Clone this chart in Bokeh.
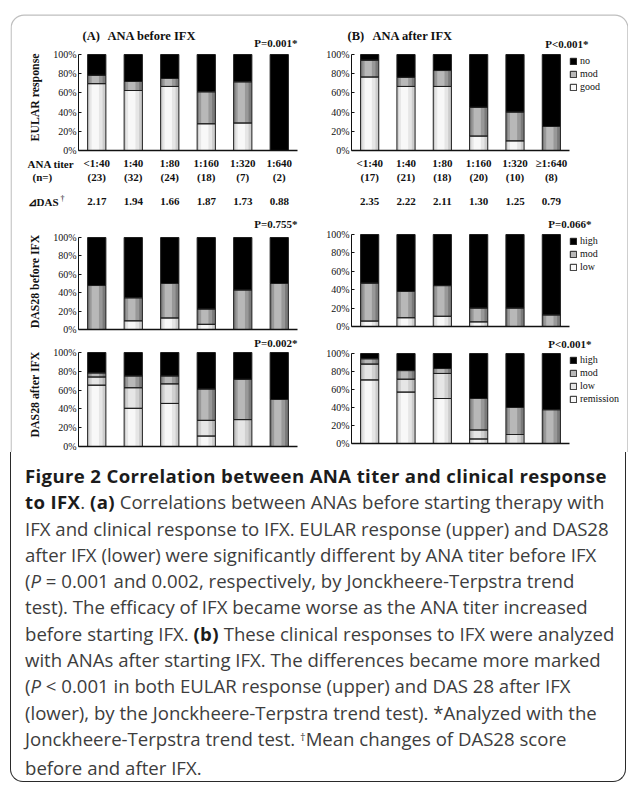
from bokeh.plotting import figure
from bokeh.models import (Label, Legend, LegendItem, FixedTicker, Div, ColumnDataSource,
                          Range1d, LinearAxis, BoxAnnotation)
from bokeh.core.properties import value
from bokeh.transform import dodge
from bokeh.layouts import column
from bokeh.embed import file_html
from bokeh.resources import INLINE
from math import pi

# ---------------- data ----------------
bar_x = [1, 2, 3, 4, 5, 6]
titer_before = ["<1:40", "1:40", "1:80", "1:160", "1:320", "1:640"]
n_before = ["(23)", "(32)", "(24)", "(18)", "(7)", "(2)"]
titer_after = ["<1:40", "1:40", "1:80", "1:160", "1:320", "\u22651:640"]
n_after = ["(17)", "(21)", "(18)", "(20)", "(10)", "(8)"]
das_change_before = ["2.17", "1.94", "1.66", "1.87", "1.73", "0.88"]
das_change_after = ["2.35", "2.22", "2.11", "1.30", "1.25", "0.79"]

# (A) ANA before IFX -- EULAR response (%)
eular_before_good = [69.6, 62.5, 66.7, 27.8, 28.6, 0.0]
eular_before_mod = [8.7, 9.4, 8.3, 33.3, 42.9, 0.0]
eular_before_no = [21.7, 28.1, 25.0, 38.9, 28.5, 100.0]
# (B) ANA after IFX -- EULAR response (%)
eular_after_good = [76.5, 66.7, 66.7, 15.0, 10.0, 0.0]
eular_after_mod = [17.6, 9.5, 16.6, 30.0, 30.0, 25.0]
eular_after_no = [5.9, 23.8, 16.7, 55.0, 60.0, 75.0]
# (A) DAS28 before IFX (%)
dasb_before_low = [0.0, 9.4, 12.5, 5.6, 0.0, 0.0]
dasb_before_mod = [47.8, 25.0, 37.5, 16.6, 42.9, 50.0]
dasb_before_high = [52.2, 65.6, 50.0, 77.8, 57.1, 50.0]
# (B) DAS28 before IFX (%)
dasb_after_low = [5.9, 9.5, 11.1, 5.0, 0.0, 0.0]
dasb_after_mod = [41.2, 28.6, 33.3, 15.0, 20.0, 12.5]
dasb_after_high = [52.9, 61.9, 55.6, 80.0, 80.0, 87.5]
# (A) DAS28 after IFX (%)
dasa_before_rem = [65.2, 40.6, 45.8, 11.1, 0.0, 0.0]
dasa_before_low = [8.7, 21.9, 20.8, 16.7, 28.6, 0.0]
dasa_before_mod = [4.3, 12.5, 8.4, 33.3, 42.9, 50.0]
dasa_before_high = [21.8, 25.0, 25.0, 38.9, 28.5, 50.0]
# (B) DAS28 after IFX (%)
dasa_after_rem = [70.6, 57.1, 50.0, 5.0, 0.0, 0.0]
dasa_after_low = [17.6, 14.3, 27.8, 10.0, 10.0, 0.0]
dasa_after_mod = [5.9, 9.6, 5.5, 35.0, 30.0, 37.5]
dasa_after_high = [5.9, 19.0, 16.7, 50.0, 60.0, 62.5]

y_ticks = [0, 20, 40, 60, 80, 100]

# ---------------- styling / geometry ----------------
SERIF = "Liberation Serif"
INK = "#111111"
FRAME = "#2a2a2a"
# (edge, middle, centre) shades giving the cylinder look of the bars
SH_LIGHT = ("#cdcdcd", "#e6e6e6", "#f8f8f8")
SH_LOW = ("#b5b5b5", "#d0d0d0", "#e6e6e6")
SH_MOD = ("#7a7a7a", "#989898", "#b8b8b8")
SH_DARK = ("#000000", "#000000", "#000000")

W, H = 618, 452          # chart canvas
OX, OY = 10, 0           # canvas origin in page pixels
BOX_TOP = 14.6           # page y of the rounded frame's top edge
TOP_PANEL = (54, 150)    # page y of 100% and 0% in the upper panels


def lx(x):  # page px -> canvas px
    return x - OX


def ly(y):
    return y - OY


p = figure(width=W, height=H, x_range=Range1d(0, W), y_range=Range1d(H, 0),
           x_axis_type=None, y_axis_type=None, min_border=0,
           min_border_left=0, min_border_right=0, min_border_top=0, min_border_bottom=0,
           output_backend="svg", toolbar_location=None)
p.outline_line_color = None
p.background_fill_alpha = 0
p.border_fill_alpha = 0

p.extra_x_ranges = {}
p.extra_y_ranges = {}


def add_xrange(name, x0, x1):
    a, b = lx(x0), lx(x1)
    u = 6.0 / (b - a)
    p.extra_x_ranges[name] = Range1d(0.5 - a * u, 6.5 + (W - b) * u)


def add_yrange(name, y0, y1):
    t, b = ly(y0), ly(y1)
    u = 100.0 / (b - t)
    p.extra_y_ranges[name] = Range1d(-(H - b) * u, 100 + t * u)


add_xrange("xa", 78, 297)
add_xrange("xb", 351, 569)
add_yrange("y1", *TOP_PANEL)
add_yrange("y2a", 237, 329)
add_yrange("y2b", 234, 326)
add_yrange("y3a", 352, 446)
add_yrange("y3b", 353, 443)


def y1_value(page_y):  # page px -> value on the (upright) upper-panel scale
    t, b = TOP_PANEL
    return (b - page_y) / (b - t) * 100.0


# rounded frame round the figure (continued by the caption box below)
p.add_layout(BoxAnnotation(left=0.6, right=W - 0.6, y_range_name="y1",
                           top=y1_value(BOX_TOP), bottom=y1_value(H + 40),
                           fill_alpha=0, line_color=FRAME, line_width=1.3,
                           border_radius=13))


def axes(xn, yn):
    ya = LinearAxis(x_range_name=xn, y_range_name=yn, fixed_location=0.5, bounds=(0, 100),
                    ticker=FixedTicker(ticks=y_ticks),
                    major_label_overrides={t: f"{t}%" for t in y_ticks},
                    major_label_text_font=SERIF, major_label_text_font_size="10px",
                    major_label_text_color=INK, major_label_standoff=2,
                    major_tick_in=3, major_tick_out=0, minor_tick_line_color=None,
                    axis_line_color=INK, major_tick_line_color=INK)
    p.add_layout(ya, "left")
    xa = LinearAxis(x_range_name=xn, y_range_name=yn, fixed_location=0, bounds=(0.5, 6.5),
                    ticker=FixedTicker(ticks=[]), minor_tick_line_color=None,
                    major_tick_line_color=None,
                    axis_line_color=INK, axis_line_width=1.5)
    p.add_layout(xa, "below")


def stack(xn, yn, names, values, shades, legend_labels=None, legend_top=None):
    data = {"x": bar_x}
    for n, v in zip(names, values):
        data[n] = v
    src = ColumnDataSource(data)
    common = dict(source=src, x_range_name=xn, y_range_name=yn)
    p.vbar_stack(names, x="x", width=0.5, fill_color=[s[0] for s in shades],
                 line_color=None, **common)
    p.vbar_stack(names, x=dodge("x", -0.02), width=0.36, fill_color=[s[1] for s in shades],
                 line_color=None, **common)
    centre = p.vbar_stack(names, x=dodge("x", -0.04), width=0.2,
                          fill_color=[s[2] for s in shades], line_color=None, **common)
    outline = p.vbar_stack(names, x="x", width=0.5, fill_alpha=0,
                           line_color="#1e1e1e", line_width=1, **common)
    axes(xn, yn)
    if legend_labels:
        items = [LegendItem(label=l, renderers=[c, o])
                 for l, c, o in zip(legend_labels, centre, outline)][::-1]
        lh = 13 * len(items)
        leg = Legend(items=items, location=(lx(569), H - ly(legend_top) - lh),
                     padding=0, margin=0, spacing=0,
                     label_height=13, glyph_width=8, glyph_height=8, label_standoff=3,
                     label_text_font=SERIF, label_text_font_size="10px",
                     label_text_color=INK, border_line_color=None, background_fill_alpha=0)
        p.add_layout(leg)


stack("xa", "y1", ["good", "mod", "no"], [eular_before_good, eular_before_mod, eular_before_no],
      [SH_LIGHT, SH_MOD, SH_DARK])
stack("xb", "y1", ["good", "mod", "no"], [eular_after_good, eular_after_mod, eular_after_no],
      [SH_LIGHT, SH_MOD, SH_DARK], ["good", "mod", "no"], 54)
stack("xa", "y2a", ["low", "mod", "high"], [dasb_before_low, dasb_before_mod, dasb_before_high],
      [SH_LIGHT, SH_MOD, SH_DARK])
stack("xb", "y2b", ["low", "mod", "high"], [dasb_after_low, dasb_after_mod, dasb_after_high],
      [SH_LIGHT, SH_MOD, SH_DARK], ["low", "mod", "high"], 234)
stack("xa", "y3a", ["rem", "low", "mod", "high"],
      [dasa_before_rem, dasa_before_low, dasa_before_mod, dasa_before_high],
      [SH_LIGHT, SH_LOW, SH_MOD, SH_DARK])
stack("xb", "y3b", ["rem", "low", "mod", "high"],
      [dasa_after_rem, dasa_after_low, dasa_after_mod, dasa_after_high],
      [SH_LIGHT, SH_LOW, SH_MOD, SH_DARK], ["remission", "low", "mod", "high"], 353)


def lab(x, y, text, size="11px", bold=True, align="center", angle=0.0):
    p.add_layout(Label(x=lx(x), y=ly(y), text=text, text_font=SERIF, text_font_size=size,
                       text_font_style="bold" if bold else "normal",
                       text_align=align, text_baseline="middle", angle=angle,
                       text_color=INK))


def row_text(xn, y, texts):
    p.text(x=bar_x, y=ly(y), text=texts, x_range_name=xn,
           text_font=value(SERIF), text_font_size=value("11px"), text_font_style="bold",
           text_align="center", text_baseline="middle", text_color=INK)


# panel titles and p-values
lab(82, 35, "(A)", "12.5px", align="left")
lab(107, 35, "ANA before IFX", "12.5px", align="left")
lab(347, 35, "(B)", "12.5px", align="left")
lab(372, 35, "ANA after IFX", "12.5px", align="left")
lab(297, 42, "P=0.001*", align="right")
lab(588, 43, "P<0.001*", align="right")
lab(297, 223, "P=0.755*", align="right")
lab(591, 223, "P=0.066*", align="right")
lab(297, 342, "P=0.002*", align="right")
lab(591, 343, "P<0.001*", align="right")

# row labels
lab(34, 97, "EULAR response", "11.8px", angle=pi / 2)
lab(34, 281, "DAS28 before IFX", "11.8px", angle=pi / 2)
lab(34, 394, "DAS28 after IFX", "11.8px", angle=pi / 2)
lab(27, 163, "ANA titer", align="left")
lab(32, 176, "(n=)", align="left")
lab(27, 201, "\u22bfDAS", align="left")
lab(60, 198, "\u2020", "8px", bold=False, align="left")

# category rows
row_text("xa", 162, titer_before)
row_text("xa", 176, n_before)
row_text("xa", 201, das_change_before)
row_text("xb", 162, titer_after)
row_text("xb", 176, n_after)
row_text("xb", 201, das_change_after)

# ---------------- caption ----------------
B = "<b style='color:#1c1c1c; letter-spacing:0.35px'>"
caption_lines = [
    B + "Figure 2 Correlation between ANA titer and clinical response</b>",
    B + "to IFX</b>. " + B + "(a)</b> Correlations between ANAs before starting therapy with",
    "IFX and clinical response to IFX. EULAR response (upper) and DAS28",
    "after IFX (lower) were significantly different by ANA titer before IFX",
    "(<i>P</i> = 0.001 and 0.002, respectively, by Jonckheere-Terpstra trend",
    "test). The efficacy of IFX became worse as the ANA titer increased",
    "before starting IFX. " + B + "(b)</b> These clinical responses to IFX were analyzed",
    "with ANAs after starting IFX. The differences became more marked",
    "(<i>P</i> &lt; 0.001 in both EULAR response (upper) and DAS 28 after IFX",
    "(lower), by the Jonckheere-Terpstra trend test). *Analyzed with the",
    "Jonckheere-Terpstra trend test. <span style='position:relative; top:-0.45em; "
    "font-size:11px'>\u2020</span>Mean changes of DAS28 score",
    "before and after IFX.",
]
cap_html = ("<div style=\"font-family:'Open Sans'; font-size:18.6px; line-height:26.3px; "
            "color:#3d3d3d; padding:11px 0 0 14px; white-space:nowrap\">"
            + "<br>".join(caption_lines) + "</div>")
edge = f"1.2px solid {FRAME}"
cap = Div(text=cap_html, width=616, height=330, margin=0,
          styles={"border-left": edge, "border-right": edge, "border-bottom": edge,
                  "border-bottom-left-radius": "13px", "border-bottom-right-radius": "13px"})

layout = column(p, cap, margin=(0, 0, 0, 10))

open("out.html", "w").write(file_html(layout, INLINE))
